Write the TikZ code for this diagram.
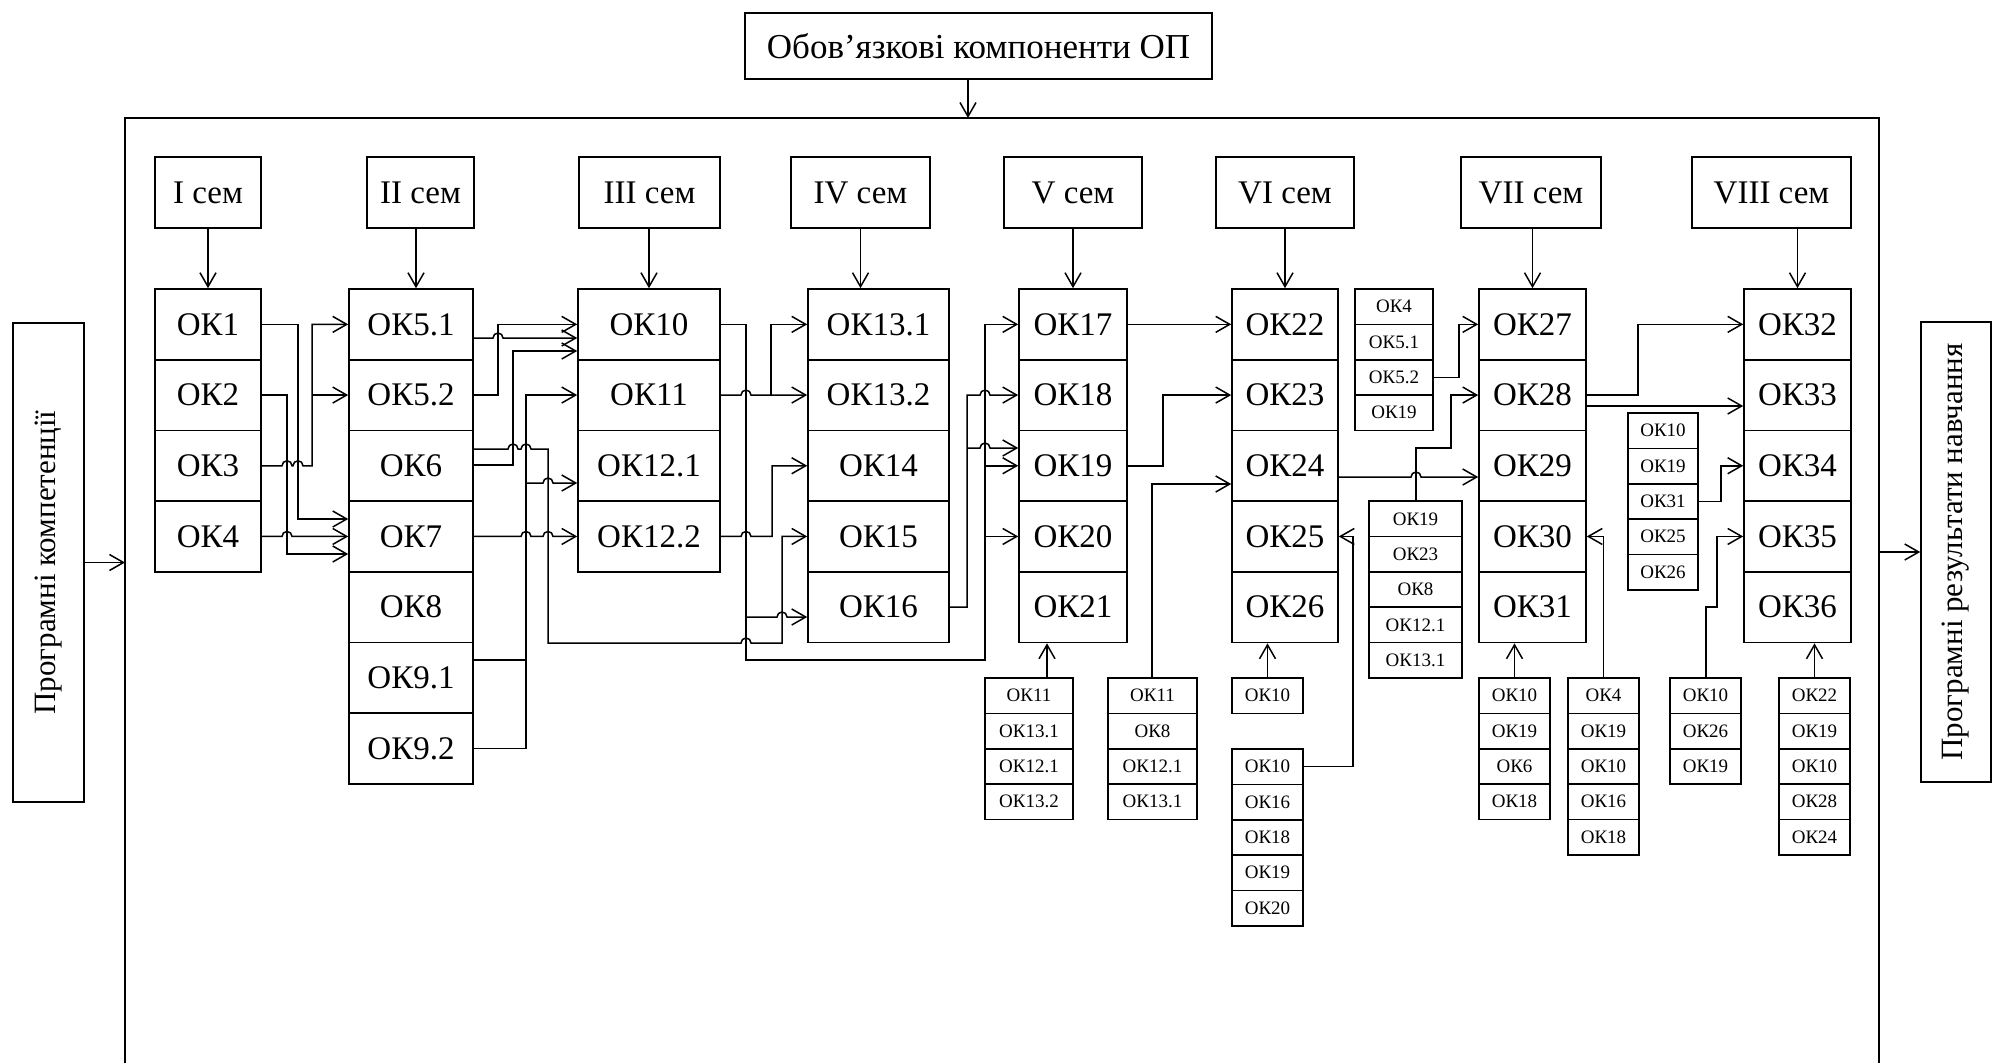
\documentclass[tikz,border=0pt]{standalone}
\usepackage{fontspec}
\setmainfont{Liberation Serif}
\usetikzlibrary{arrows.meta}
\newcommand\hj[2]{-- ({#1-5},#2) arc[start angle=180,end angle=0,radius=5pt]}
\newcommand\okcol[3]{%
  \foreach \nm/\lab [count=\i from 0] in {#3}
    \node[big,minimum width=#2pt] (\nm) at (#1,{324.35+70.7*\i}) {\lab};}
\newcommand\smcol[5]{%
  \foreach \lab [count=\i] in {#5}
    \node[sm,minimum width=#3pt] (#1\i) at (#2,{#4+35.35*(\i-1)}) {\lab};}
\begin{document}
\begin{tikzpicture}[x=1pt,y=-1pt,
  box/.style={draw,line width=1.6pt,inner sep=0pt},
  big/.style={box,minimum height=70.7pt,font=\fontsize{33}{36}\selectfont},
  sm/.style={box,minimum height=35.35pt,font=\fontsize{19}{21}\selectfont},
  ln/.style={line width=1.5pt},
  arr/.style={ln,-{Straight Barb[length=14pt,width=16pt]}}]
\useasboundingbox (0,0) rectangle (1997,1063);
% frame
\draw[ln] (125,1063) -- (125,118) -- (1879,118) -- (1879,1063);
\coordinate (ft) at (968,118);
\coordinate (fl) at (125,562.5);
\coordinate (fr) at (1879,552);
% title and side labels
\node[box,minimum width=467pt,minimum height=66pt,font=\fontsize{35}{38}\selectfont] (title) at (978.5,46) {Обов’язкові компоненти ОП};
\node[box,minimum width=479pt,minimum height=71pt,rotate=90,font=\fontsize{31}{34}\selectfont] (pk) at (48.5,562.5) {Програмні компетенції};
\node[box,minimum width=460pt,minimum height=70pt,rotate=90,font=\fontsize{31}{34}\selectfont] (pr) at (1956,552) {Програмні результати навчання};
\draw[arr] (title.south -| ft) -- (ft);
\draw[arr] (pk.south) -- (fl);
\draw[arr] (fr) -- (pr.north);
% semesters
\node[big,minimum width=106pt] (s1) at (208,192.5) {I сем};
\node[big,minimum width=107pt] (s2) at (420.5,192.5) {II сем};
\node[big,minimum width=141pt] (s3) at (649.5,192.5) {III сем};
\node[big,minimum width=139pt] (s4) at (860.5,192.5) {IV сем};
\node[big,minimum width=138pt] (s5) at (1073,192.5) {V сем};
\node[big,minimum width=138pt] (s6) at (1285,192.5) {VI сем};
\node[big,minimum width=140pt] (s7) at (1531,192.5) {VII сем};
\node[big,minimum width=159pt] (s8) at (1771.5,192.5) {VIII сем};
% columns
\okcol{208}{106}{ok1/ОК1,ok2/ОК2,ok3/ОК3,ok4/ОК4}
\okcol{411}{124}{ok51/ОК5.1,ok52/ОК5.2,ok6/ОК6,ok7/ОК7,ok8/ОК8,ok91/ОК9.1,ok92/ОК9.2}
\okcol{649}{142}{ok10/ОК10,ok11/ОК11,ok121/ОК12.1,ok122/ОК12.2}
\okcol{878.5}{141}{ok131/ОК13.1,ok132/ОК13.2,ok14/ОК14,ok15/ОК15,ok16/ОК16}
\okcol{1073}{108}{ok17/ОК17,ok18/ОК18,ok19/ОК19,ok20/ОК20,ok21/ОК21}
\okcol{1285}{106}{ok22/ОК22,ok23/ОК23,ok24/ОК24,ok25/ОК25,ok26/ОК26}
\okcol{1532.5}{107}{ok27/ОК27,ok28/ОК28,ok29/ОК29,ok30/ОК30,ok31/ОК31}
\okcol{1797.5}{107}{ok32/ОК32,ok33/ОК33,ok34/ОК34,ok35/ОК35,ok36/ОК36}
% small boxes
\smcol{sA}{1394}{78}{306.7}{ОК4,ОК5.1,ОК5.2,ОК19}
\smcol{sB}{1415.5}{93}{518.8}{ОК19,ОК23,ОК8,ОК12.1,ОК13.1}
\smcol{sC}{1663}{70}{430.7}{ОК10,ОК19,ОК31,ОК25,ОК26}
\smcol{bA}{1029}{88}{695.7}{ОК11,ОК13.1,ОК12.1,ОК13.2}
\smcol{bB}{1152.5}{89}{695.7}{ОК11,ОК8,ОК12.1,ОК13.1}
\smcol{bC}{1267.5}{71}{695.7}{ОК10}
\smcol{bD}{1267.5}{71}{766.7}{ОК10,ОК16,ОК18,ОК19,ОК20}
\smcol{bE}{1514.5}{71}{695.7}{ОК10,ОК19,ОК6,ОК18}
\smcol{bF}{1603.5}{71}{695.7}{ОК4,ОК19,ОК10,ОК16,ОК18}
\smcol{bG}{1705.5}{71}{695.7}{ОК10,ОК26,ОК19}
\smcol{bH}{1814.5}{71}{695.7}{ОК22,ОК19,ОК10,ОК28,ОК24}
% semester arrows
\draw[arr] (s1.south) -- (ok1.north);
\draw[arr] (s2.south -| 416,0) -- (ok51.north -| 416,0);
\draw[arr] (s3.south -| ok10.north) -- (ok10.north);
\draw[arr] (s4.south) -- (s4.south |- ok131.north);
\draw[arr] (s5.south) -- (ok17.north);
\draw[arr] (s6.south) -- (ok22.north);
\draw[arr] (s7.south -| ok27.north) -- (ok27.north);
\draw[arr] (s8.south -| ok32.north) -- (ok32.north);
% column 1 -> column 2
\draw[arr] (ok1.east) -| (298,519) -- (ok7.west |- 0,519);
\draw[arr] (ok2.east) -| (287,554) -- (ok7.west |- 0,554);
\draw[arr] (ok3.east) \hj{287}{465.75} \hj{298}{465.75} -- (312,465.75) |- (ok51.west);
\draw[arr] (312,395.05) -- (ok52.west);
\draw[arr] (ok4.east) \hj{287}{536.45} -- (ok7.west);
% column 2 -> column 3/4
\draw[arr] (ok52.east) -| (498,324.35) -- (ok10.west);
\draw[arr] (ok51.east |- 0,338) \hj{498}{338} -- (ok10.west |- 0,338);
\draw[arr] (ok6.east |- 0,465) -| (513,351) -- (ok10.west |- 0,351);
\draw[arr] (ok6.east |- 0,449) \hj{513}{449} \hj{526}{449} -- (548,449) -- (548,643) \hj{746}{643} -- (782,643) |- (ok15.west);
\draw[ln] (ok91.east |- 0,660) -- (526,660);
\draw[arr] (ok92.east) -| (526,395.05) -- (ok11.west);
\draw[arr] (526,483) \hj{548}{483} -- (ok121.west |- 0,483);
\draw[arr] (ok7.east) \hj{526}{536.45} \hj{548}{536.45} -- (ok122.west);
% column 3 -> column 4/5
\draw[arr] (ok10.east) -| (746,660) -- (985,660) |- (ok17.west);
\draw[arr] (746,617) \hj{782}{617} -- (ok16.west |- 0,617);
\draw[arr] (985,465.75) -- (ok19.west);
\draw[arr] (985,536.45) -- (ok20.west);
\draw[arr] (ok11.east) \hj{746}{395.05} -- (771,395.05) -- (ok132.west);
\draw[arr] (771,395.05) |- (ok131.west);
\draw[arr] (ok122.east) \hj{746}{536.45} -- (772,536.45) |- (ok14.west);
% column 4 -> column 5
\draw[arr] (ok16.east) -| (967,395.05) \hj{985}{395.05} -- (ok18.west);
\draw[arr] (967,448) \hj{985}{448} -- (ok19.west |- 0,448);
% column 5 -> column 6
\draw[arr] (ok17.east) -- (ok22.west);
\draw[arr] (ok19.east) -| (1163,395.05) -- (ok23.west);
\draw[arr] (bB1.north -| 1152,0) -- (1152,484) -- (ok24.west |- 0,484);
\draw[arr] (bA1.north -| 1047,0) -- (ok21.south -| 1047,0);
\draw[arr] (bC1.north) -- (ok26.south -| bC1.north);
\draw[arr] (bD1.east) -| (1353,536.45) -- (ok25.east);
% column 6 -> column 7
\draw[arr] (ok24.east |- 0,477) \hj{1416}{477} -- (ok29.west |- 0,477);
\draw[arr] (sB1.north -| 1416,0) -- (1416,448) -| (1451,395.05) -- (ok28.west);
\draw[arr] (sA3.east) -| (1459,324.35) -- (ok27.west);
\draw[arr] (bE1.north) -- (ok31.south -| bE1.north);
\draw[arr] (bF1.north) |- (ok30.east);
% column 7 -> column 8
\draw[arr] (ok28.east) -| (1638,324.35) -- (ok32.west);
\draw[arr] (ok28.east |- 0,406) -- (ok33.west |- 0,406);
\draw[arr] (sC3.east) -| (1721,465.75) -- (ok34.west);
\draw[arr] (bG1.north -| 1706,0) -- (1706,607) -| (1717,536.45) -- (ok35.west);
\draw[arr] (bH1.north) -- (ok36.south -| bH1.north);
\end{tikzpicture}
\end{document}
